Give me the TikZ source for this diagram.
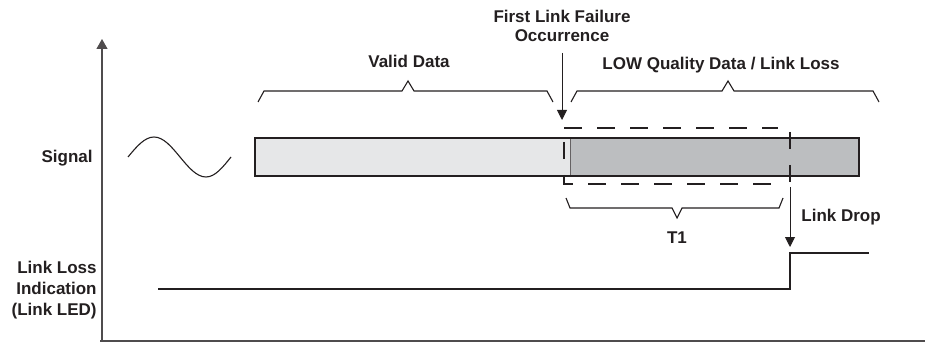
\documentclass[tikz,border=0pt]{standalone}
\usepackage{fontspec}
\setmainfont{Liberation Sans}
\usetikzlibrary{arrows.meta}
\definecolor{ink}{HTML}{231F20}
\definecolor{validgray}{HTML}{E6E7E8}
\definecolor{lossgray}{HTML}{BCBEC0}
\newcommand{\upbrace}[4]{%
  \draw[brace] (#1,#4+11) -- (#1+6,#4) -- (#3-6,#4) -- (#3,#4-10)
    -- (#3+6,#4) -- (#2-6,#4) -- (#2,#4+11);
}
\newcommand{\downbrace}[4]{%
  \draw[brace] (#1,#4-10) -- (#1+4,#4) -- (#3-5,#4) -- (#3,#4+10)
    -- (#3+5,#4) -- (#2-4,#4) -- (#2,#4-10);
}
\begin{document}
\begin{tikzpicture}[
      x=0.5pt, y=-0.5pt,
      every node/.style={inner sep=0pt,text=ink,
        font=\fontsize{8.5}{9.5}\selectfont\bfseries},
      axis/.style={draw=ink!80, line width=0.6pt},
      brace/.style={draw=ink, line width=0.55pt},
      wave/.style={draw=ink, line width=0.55pt},
      bar/.style={draw=ink, line width=0.7pt},
      gap/.style={draw=ink, line width=0.6pt, dash pattern=on 8.75pt off 7.75pt},
      pointer/.style={draw=ink, line width=0.45pt, -{Triangle[width=5pt,length=5pt]}},
      led/.style={draw=ink, line width=0.8pt}
    ]
      \useasboundingbox (0,0) rectangle (925,347);
      % labels
      \node[anchor=base east] (signal) at (93,163) {Signal};
      \node[anchor=east, align=right, font=\fontsize{8.5}{10.5}\selectfont\bfseries]
        (ledlabel) at (97,290.5) {Link Loss\\Indication\\(Link LED)};
      \node[anchor=base] (valid) at (409,68) {Valid Data};
      \node[anchor=base] (lowq) at (721,70) {LOW Quality Data / Link Loss};
      \node[align=center] (failure) at (562,25.5) {First Link Failure\\Occurrence};
      \node[anchor=base] (t1) at (677,243) {T1};
      \node[anchor=base west] (drop) at (801,221) {Link Drop};
      % axes
      \coordinate (origin) at (102,341);
      \coordinate (ytop) at (102,39);
      \coordinate (xend) at (925,341);
      \draw[axis, -{Triangle[width=5.5pt,length=5pt]}] (origin) -- (ytop);
      \draw[axis] (100,341) -- (xend);
      % signal
      \draw[wave] (128,157) sin (154,137) cos (180,157) sin (206,177) cos (231,157);
      \fill[validgray] (255,138) rectangle (570,176);
      \fill[lossgray] (570,138) rectangle (859,176);
      \draw[ink!70, line width=0.5pt] (570,138) -- (570,176);
      \draw[bar] (255,138) rectangle (859,176);
      % braces
      \upbrace{258}{553}{408}{91}
      \upbrace{571}{879}{728}{91}
      \downbrace{566}{783}{677}{208}
      % T1 window
      \draw[gap] (564,128) -- (778,128);
      \draw[gap] (564,142) -- (564,184) -- (778,184);
      \draw[gap] (790,132) -- (790,185);
      % events
      \coordinate (failtop) at (562,53);
      \coordinate (failtip) at (562,120);
      \coordinate (droptop) at (790,187);
      \coordinate (droptip) at (790,247);
      \draw[pointer] (failtop) -- (failtip);
      \draw[pointer] (droptop) -- (droptip);
      % link LED
      \coordinate (ledstart) at (158,289);
      \coordinate (ledlow) at (790,289);
      \coordinate (ledhigh) at (790,253);
      \coordinate (ledend) at (869,253);
      \draw[led] (ledstart) -- (ledlow) -- (ledhigh) -- (ledend);
    \end{tikzpicture}
\end{document}
